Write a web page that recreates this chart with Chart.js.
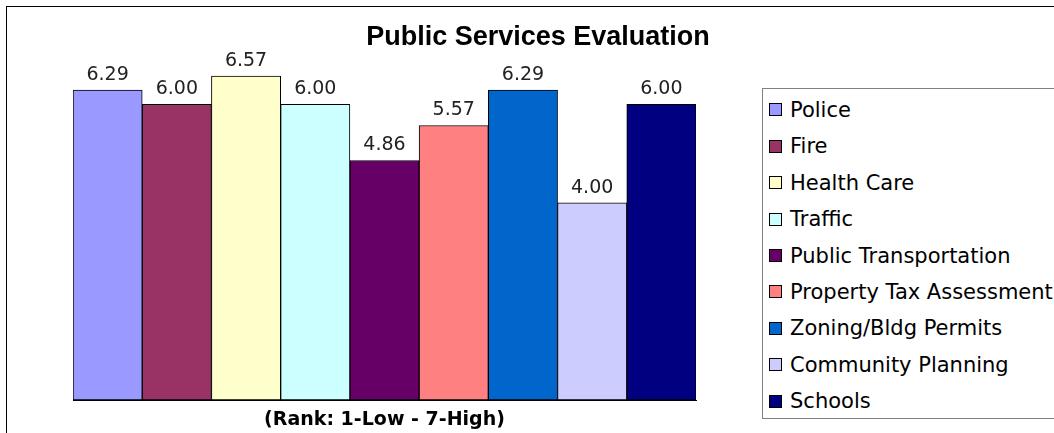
<!DOCTYPE html>
<html>
<head>
<meta charset="utf-8">
<script src="https://cdn.jsdelivr.net/npm/chart.js@4.4.1/dist/chart.umd.min.js"></script>
<style>
  html, body { margin: 0; padding: 0; width: 1054px; height: 433px; overflow: hidden; background: #fff; }
  #frame { position: absolute; left: 6px; top: 6px; width: 1048px; height: 427px; border-left: 1px solid #000; border-top: 1px solid #000; box-sizing: border-box; }
  #wrap { position: absolute; left: 0; top: 0; width: 1054px; height: 433px; }
  #legend { position: absolute; left: 762px; top: 88px; width: 292px; height: 331px; border: 1px solid #808080; border-right: none; box-sizing: border-box; background: #fff; padding-top: 2.8px; overflow: visible; }
  .item { display: flex; align-items: center; height: 36.4px; font-family: "DejaVu Sans", sans-serif; font-size: 21px; color: #000; white-space: nowrap; }
  .sw { width: 11px; height: 11px; border: 1px solid #000; margin-left: 6px; margin-right: 8px; flex: none; }
</style>
</head>
<body>
<div id="frame"></div>
<div id="wrap"><canvas id="c"></canvas></div>
<div id="legend"></div>
<script>
const chartTitle = 'Public Services Evaluation';
const axisTitle = '(Rank: 1-Low - 7-High)';
const categories = ['Police', 'Fire', 'Health Care', 'Traffic', 'Public Transportation', 'Property Tax Assessment', 'Zoning/Bldg Permits', 'Community Planning', 'Schools'];
const scores = [6.29, 6.00, 6.57, 6.00, 4.86, 5.57, 6.29, 4.00, 6.00];
const barColors = ['#9999FF', '#993366', '#FFFFCC', '#CCFFFF', '#660066', '#FF8080', '#0066CC', '#CCCCFF', '#000080'];

const datasets = categories.map((name, i) => ({
  label: name,
  data: [scores[i]],
  backgroundColor: barColors[i],
  borderColor: '#000',
  borderWidth: 1,
  borderSkipped: false,
  categoryPercentage: 1,
  barPercentage: 1
}));

const valueLabels = {
  id: 'valueLabels',
  afterDatasetsDraw(chart) {
    const ctx = chart.ctx;
    ctx.save();
    ctx.font = '19px "DejaVu Sans", sans-serif';
    ctx.fillStyle = '#222';
    ctx.textAlign = 'center';
    ctx.textBaseline = 'alphabetic';
    chart.data.datasets.forEach((ds, i) => {
      const meta = chart.getDatasetMeta(i);
      meta.data.forEach((bar, j) => {
        ctx.fillText(Number(ds.data[j]).toFixed(2), bar.x, bar.y - 10);
      });
    });
    ctx.restore();
  }
};

new Chart(document.getElementById('c'), {
  type: 'bar',
  data: { labels: [''], datasets },
  options: {
    responsive: true,
    maintainAspectRatio: false,
    animation: false,
    layout: { padding: { left: 22, right: 0, top: 0, bottom: 0 } },
    plugins: {
      legend: { display: false },
      tooltip: { enabled: false },
      title: {
        display: true,
        text: chartTitle,
        color: '#000',
        font: { family: '"Liberation Sans", Arial, sans-serif', size: 27, weight: 'bold', lineHeight: 1.2 },
        padding: { top: 21.8, bottom: 0.8 }
      }
    },
    scales: {
      x: {
        grid: { display: false, drawTicks: false },
        ticks: { display: false },
        border: { display: true, color: '#000', width: 1 },
        title: {
          display: true,
          text: axisTitle,
          color: '#000',
          font: { family: '"DejaVu Sans", sans-serif', size: 19, weight: 'bold', lineHeight: 1.2 },
          padding: { top: 8.6, bottom: 1.6 }
        }
      },
      y: {
        min: 0, max: 7,
        grid: { display: false, drawTicks: false },
        ticks: { display: false },
        border: { display: false },
        afterFit(s) { s.width = 51; }
      },
      y2: {
        position: 'right',
        min: 0, max: 1,
        grid: { display: false, drawTicks: false },
        ticks: { display: false },
        border: { display: false },
        afterFit(s) { s.width = 358; }
      }
    }
  },
  plugins: [valueLabels]
});

const legendEl = document.getElementById('legend');
categories.forEach((name, i) => {
  const row = document.createElement('div');
  row.className = 'item';
  const sw = document.createElement('span');
  sw.className = 'sw';
  sw.style.background = barColors[i];
  const tx = document.createElement('span');
  tx.textContent = name;
  row.appendChild(sw);
  row.appendChild(tx);
  legendEl.appendChild(row);
});
</script>
</body>
</html>
